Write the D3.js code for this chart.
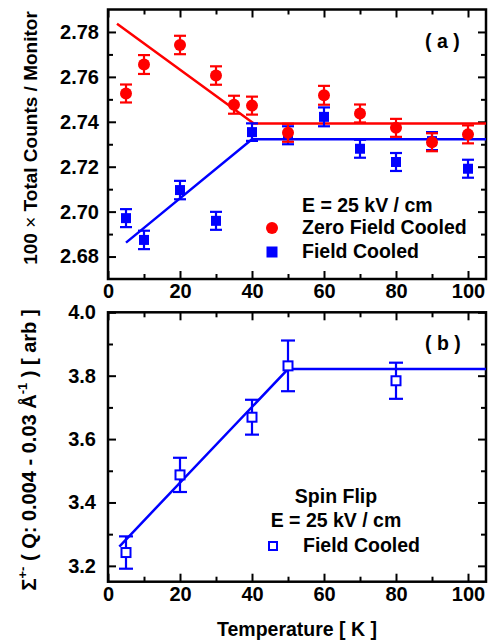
<!DOCTYPE html>
<html>
<head>
<meta charset="utf-8">
<script src="https://cdn.jsdelivr.net/npm/d3@7"></script>
<style>
body { margin: 0; background: #fff; }
svg text { font-family: "Liberation Sans", Arial, sans-serif; font-weight: bold; fill: #000; }
</style>
</head>
<body>
<script>
const w = 488;
const h = 642;

// panel (a): total counts / monitor
const zfcTemp = [5, 10, 20, 30, 35, 40, 50, 60, 70, 80, 90, 100];
const zfcCounts = [2.7526, 2.7655, 2.7742, 2.7606, 2.7476, 2.7472, 2.7351, 2.7518, 2.7437, 2.7373, 2.7309, 2.7344];
const zfcErr = [0.004, 0.0042, 0.0041, 0.0041, 0.004, 0.004, 0.004, 0.0042, 0.004, 0.004, 0.004, 0.004];
const fcTemp = [5, 10, 20, 30, 40, 50, 60, 70, 80, 90, 100];
const fcCounts = [2.6971, 2.6874, 2.7096, 2.6959, 2.7354, 2.734, 2.7422, 2.728, 2.7221, 2.7314, 2.7191];
const fcErr = [0.004, 0.0041, 0.0041, 0.004, 0.0039, 0.004, 0.0042, 0.004, 0.004, 0.004, 0.004];
const zfcFitTemp = [2.5, 40.5, 105];
const zfcFitCounts = [2.7837, 2.7392, 2.7392];
const fcFitTemp = [5, 40, 105];
const fcFitCounts = [2.6862, 2.7322, 2.7322];

// panel (b): spin flip
const sfTemp = [5, 20, 40, 50, 80];
const sfSigma = [3.242, 3.487, 3.669, 3.831, 3.784];
const sfErr = [0.051, 0.054, 0.055, 0.08, 0.057];
const sfFitTemp = [3.15, 50, 105];
const sfFitSigma = [3.261, 3.821, 3.821];

// ticks
const xTicks = [0, 20, 40, 60, 80, 100];
const xMinor = [10, 30, 50, 70, 90];
const yTicksA = [2.68, 2.70, 2.72, 2.74, 2.76, 2.78];
const yMinorA = [2.69, 2.71, 2.73, 2.75, 2.77];
const yTicksB = [3.2, 3.4, 3.6, 3.8, 4.0];
const yMinorB = [3.3, 3.5, 3.7, 3.9];

const red = "#ff0000";
const blue = "#0000ff";

const svg = d3.select("body")
    .append("svg")
    .attr("width", w)
    .attr("height", h)
    ;

const x = d3.scaleLinear().domain([0, 105]).range([108, 486]);
const yA = d3.scaleLinear().domain([2.67, 2.79]).range([279, 9.5]);
const yB = d3.scaleLinear().domain([3.15, 4.0]).range([581.7, 312.3]);

function drawFrame(y, yMajor, yMinor, fmt, yPad) {
    const g = svg.append("g");
    const y0 = y.range()[0];
    const y1 = y.range()[1];
    const x0 = x.range()[0];
    const x1 = x.range()[1];

    const axes = [
        [d3.axisBottom(x).tickValues(xTicks).tickSize(-8).tickPadding(5).tickFormat(d3.format("d")), `translate(0,${y0})`],
        [d3.axisBottom(x).tickValues(xMinor).tickSize(-5).tickFormat(""), `translate(0,${y0})`],
        [d3.axisTop(x).tickValues(xTicks).tickSize(-8).tickFormat(""), `translate(0,${y1})`],
        [d3.axisTop(x).tickValues(xMinor).tickSize(-5).tickFormat(""), `translate(0,${y1})`],
        [d3.axisLeft(y).tickValues(yMajor).tickSize(-8).tickPadding(yPad).tickFormat(fmt), `translate(${x0},0)`],
        [d3.axisLeft(y).tickValues(yMinor).tickSize(-5).tickFormat(""), `translate(${x0},0)`],
        [d3.axisRight(y).tickValues(yMajor).tickSize(-8).tickFormat(""), `translate(${x1},0)`],
        [d3.axisRight(y).tickValues(yMinor).tickSize(-5).tickFormat(""), `translate(${x1},0)`],
    ];
    axes.forEach(a => {
        const ag = g.append("g").attr("transform", a[1]).call(a[0]);
        ag.select(".domain").remove();
        ag.selectAll("line").attr("stroke", "#000").attr("stroke-width", 2);
        ag.selectAll("text").style("font-size", "20px");
    });

    g.append("rect")
        .attr("x", x0)
        .attr("y", y1)
        .attr("width", x1 - x0)
        .attr("height", y0 - y1)
        .attr("fill", "none")
        .attr("stroke", "#000")
        .attr("stroke-width", 2.5)
        ;
}

function drawFit(y, temps, vals, color) {
    svg.append("path")
        .datum(temps.map((t, i) => [t, vals[i]]))
        .attr("fill", "none")
        .attr("stroke", color)
        .attr("stroke-width", 2.5)
        .attr("d", d3.line().x(d => x(d[0])).y(d => y(d[1])))
        ;
}

function drawErrors(y, temps, vals, errs, color, cap) {
    const pts = temps.map((t, i) => ({t: t, v: vals[i], e: errs[i]}));
    const g = svg.append("g").attr("stroke", color).attr("stroke-width", 2.2);
    g.selectAll(".bar").data(pts).enter()
        .append("line")
        .attr("x1", d => x(d.t)).attr("x2", d => x(d.t))
        .attr("y1", d => y(d.v - d.e)).attr("y2", d => y(d.v + d.e))
        ;
    [-1, 1].forEach(s => {
        g.selectAll(".cap" + s).data(pts).enter()
            .append("line")
            .attr("x1", d => x(d.t) - cap).attr("x2", d => x(d.t) + cap)
            .attr("y1", d => y(d.v + s * d.e)).attr("y2", d => y(d.v + s * d.e))
            ;
    });
    return pts;
}

// ---- panel (a)
drawFrame(yA, yTicksA, yMinorA, d3.format(".2f"), 9);
drawFit(yA, zfcFitTemp, zfcFitCounts, red);
drawFit(yA, fcFitTemp, fcFitCounts, blue);

const fcPts = drawErrors(yA, fcTemp, fcCounts, fcErr, blue, 6);
svg.append("g").selectAll("rect").data(fcPts).enter()
    .append("rect")
    .attr("x", d => x(d.t) - 5)
    .attr("y", d => yA(d.v) - 5)
    .attr("width", 10)
    .attr("height", 10)
    .attr("fill", blue)
    ;

const zfcPts = drawErrors(yA, zfcTemp, zfcCounts, zfcErr, red, 6);
svg.append("g").selectAll("circle").data(zfcPts).enter()
    .append("circle")
    .attr("cx", d => x(d.t))
    .attr("cy", d => yA(d.v))
    .attr("r", 6)
    .attr("fill", red)
    ;

svg.append("text").attr("x", 425).attr("y", 48).style("font-size", "19.5px").text("( a )");

const legA = svg.append("g").style("font-size", "19.5px");
legA.append("text").attr("x", 302).attr("y", 212).text("E = 25 kV / cm");
legA.append("circle").attr("cx", 272).attr("cy", 228).attr("r", 6).attr("fill", red);
legA.append("text").attr("x", 302).attr("y", 234).text("Zero Field Cooled");
legA.append("rect").attr("x", 266.5).attr("y", 246.5).attr("width", 11).attr("height", 11).attr("fill", blue);
legA.append("text").attr("x", 302).attr("y", 258).text("Field Cooled");

svg.append("text")
    .attr("transform", "translate(37,138) rotate(-90)")
    .attr("text-anchor", "middle")
    .style("font-size", "19px")
    .call(t => {
        t.append("tspan").text("100 ");
        t.append("tspan").style("font-weight", "normal").text("\u00d7");
        t.append("tspan").text(" Total Counts / Monitor");
    })
    ;

// ---- panel (b)
drawFrame(yB, yTicksB, yMinorB, d3.format(".1f"), 12);
drawFit(yB, sfFitTemp, sfFitSigma, blue);

const sfPts = drawErrors(yB, sfTemp, sfSigma, sfErr, blue, 7);
svg.append("g").selectAll("rect").data(sfPts).enter()
    .append("rect")
    .attr("x", d => x(d.t) - 4.5)
    .attr("y", d => yB(d.v) - 4.5)
    .attr("width", 9)
    .attr("height", 9)
    .attr("fill", "#fff")
    .attr("stroke", blue)
    .attr("stroke-width", 2)
    ;

svg.append("text").attr("x", 425).attr("y", 350).style("font-size", "19.5px").text("( b )");

const legB = svg.append("g").style("font-size", "19.5px");
legB.append("text").attr("x", 336).attr("y", 503).attr("text-anchor", "middle").text("Spin Flip");
legB.append("text").attr("x", 336).attr("y", 527).attr("text-anchor", "middle").text("E = 25 kV / cm");
legB.append("rect").attr("x", 269).attr("y", 542).attr("width", 8).attr("height", 8)
    .attr("fill", "none").attr("stroke", blue).attr("stroke-width", 2);
legB.append("text").attr("x", 303).attr("y", 552).text("Field Cooled");

svg.append("text")
    .attr("transform", "translate(36,450) rotate(-90)")
    .attr("text-anchor", "middle")
    .style("font-size", "20px")
    .call(t => {
        t.append("tspan").text("\u03a3");
        t.append("tspan").attr("dy", -9).style("font-size", "13px").text("+-");
        t.append("tspan").attr("dy", 9).text(" ( Q: 0.004 - 0.03 \u00c5");
        t.append("tspan").attr("dy", -9).style("font-size", "13px").text("-1");
        t.append("tspan").attr("dy", 9).text(" ) [ arb ]");
    })
    ;

svg.append("text")
    .attr("x", 297)
    .attr("y", 636)
    .attr("text-anchor", "middle")
    .style("font-size", "19.5px")
    .text("Temperature [ K ]")
    ;
</script>
</body>
</html>
